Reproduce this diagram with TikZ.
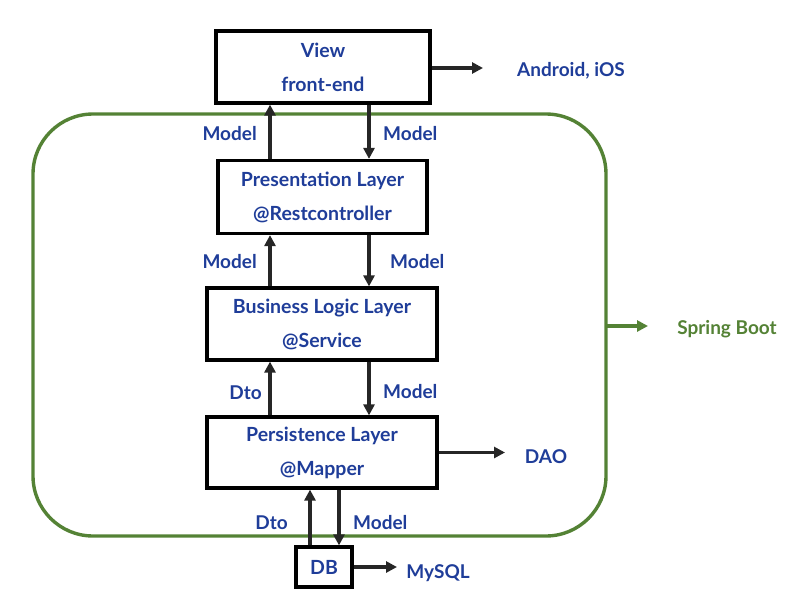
\documentclass[tikz,border=0pt]{standalone}
\usepackage{fontspec}
\setmainfont{Lato}
\usetikzlibrary{arrows.meta}
\definecolor{txtblue}{HTML}{1F3D99}
\definecolor{sbgreen}{HTML}{548235}
\definecolor{lnk}{HTML}{262626}
\begin{document}
\begin{tikzpicture}[x=1pt,y=-1pt,
  lbl/.style={font=\bfseries\fontsize{19}{22}\selectfont, text=txtblue, inner sep=0pt},
  layerbox/.style={draw=black, line width=3.2pt, fill=white, align=center, inner sep=0pt,
     font=\bfseries\fontsize{19.5}{34}\selectfont, text=txtblue,
     execute at begin node={\rule{0pt}{20pt}}},
  conn/.style={draw=lnk, line width=3.2pt, -{Triangle[length=11pt,width=11pt]}},
  gconn/.style={draw=sbgreen, line width=3.2pt, -{Triangle[length=11pt,width=11pt]}}]
\useasboundingbox (0,0) rectangle (806,605);
% Spring Boot container
\draw[sbgreen, line width=3.4pt, rounded corners=60pt] (33,114) rectangle (606,536);
\coordinate (sbedge) at (606,326);
\node[lbl, text=sbgreen] (sb) at (727,329) {Spring Boot};
\draw[gconn] (sbedge) -- (648,326);
% boxes
\node[layerbox, minimum width=214pt, minimum height=72pt] (view) at (323,67) {View\\front-end};
\node[layerbox, minimum width=209pt, minimum height=73pt] (pres) at (322.5,197) {Presentation Layer\\@Restcontroller};
\node[layerbox, minimum width=230pt, minimum height=72pt] (biz) at (322,324) {Business Logic Layer\\@Service};
\node[layerbox, minimum width=230pt, minimum height=71pt] (pers) at (322,452.5) {Persistence Layer\\@Mapper};
\node[draw=black, line width=3.2pt, fill=white, inner sep=0pt, text=txtblue,
      minimum width=56pt, minimum height=40pt, font=\bfseries\fontsize{19.5}{22}\selectfont] (db) at (324,567) {DB};
% side labels
\node[lbl] (android) at (571,71) {Android, iOS};
\node[lbl] (dao) at (546,457) {DAO};
\node[lbl] (mysql) at (438,573) {MySQL};
\draw[conn] (view.east |- 0,68) -- (483,68);
\draw[conn] (pers.east) -- (505,452.5);
\draw[conn] (db.east) -- (397,567);
% vertical arrows
\draw[conn] (pres.north -| 270,0) -- (view.south -| 270,0);
\draw[conn] (view.south -| 369,0) -- (pres.north -| 369,0);
\draw[conn] (biz.north -| 270,0) -- (pres.south -| 270,0);
\draw[conn] (pres.south -| 369,0) -- (biz.north -| 369,0);
\draw[conn] (pers.north -| 270,0) -- (biz.south -| 270,0);
\draw[conn] (biz.south -| 369,0) -- (pers.north -| 369,0);
\draw[conn] (db.north -| 310,0) -- (pers.south -| 310,0);
\draw[conn] (pers.south -| 339,0) -- (db.north -| 339,0);
% arrow labels
\node[lbl, anchor=east] (m1) at (257,134) {Model};
\node[lbl, anchor=west] (m2) at (383,134) {Model};
\node[lbl, anchor=east] (m3) at (257,262) {Model};
\node[lbl, anchor=west] (m4) at (390,262) {Model};
\node[lbl, anchor=east] (d1) at (262,393) {Dto};
\node[lbl, anchor=west] (m5) at (383,392) {Model};
\node[lbl, anchor=east] (d2) at (288,523) {Dto};
\node[lbl, anchor=west] (m6) at (353,523) {Model};
\end{tikzpicture}
\end{document}
